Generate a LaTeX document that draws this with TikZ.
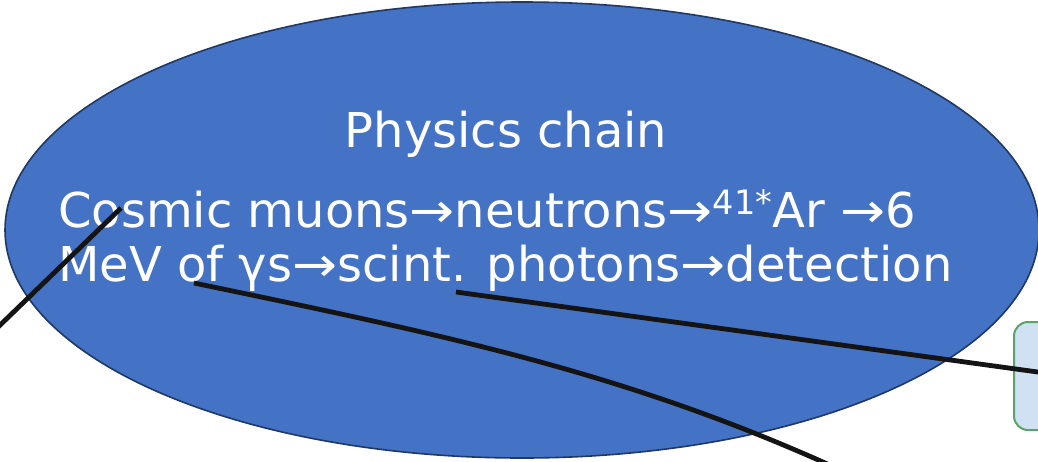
\documentclass[tikz,border=0pt]{standalone}
\usepackage{fontspec}
\setmainfont{DejaVu Sans}
\usepackage{xcolor}
\usepackage{tikz}
\usetikzlibrary{shapes.geometric}

\definecolor{chainblue}{HTML}{4472C4}
\definecolor{chainedge}{HTML}{203864}
\definecolor{boxfill}{HTML}{CFE1F3}
\definecolor{boxedge}{HTML}{5AA469}

\newcommand{\yields}{\scalebox{1.12}[1]{→}}

\begin{document}
\begin{tikzpicture}[
    x=0.75pt, y=-0.75pt,
    chainshape/.style={ellipse, draw=chainedge, fill=chainblue, line width=1.2pt, inner sep=0pt, minimum width=775.5pt, minimum height=342pt},
    chaintext/.style={text=white, font=\fontsize{36}{40.5}\selectfont, inner sep=0pt},
    sidebox/.style={rectangle, draw=boxedge, fill=boxfill, line width=1.5pt, rounded corners=10.5pt, minimum width=90pt, minimum height=81pt},
    link/.style={line width=3.6pt, draw=black!92}
]
\useasboundingbox (0,0) rectangle (1038,461);

\node (chain) [chainshape] at (522,230) {};
\node (title) [chaintext, anchor=base] at (506,147) {Physics chain};
\node (steps) [chaintext, align=left, anchor=base west] at (58,281) {Cosmic muons\yields neutrons\yields\textsuperscript{41*}Ar \yields 6\\MeV of γs\yields scint. photons\yields detection};

\node (detbox) [sidebox, anchor=north west] at (1013,321) {};

% connector ends
\coordinate (muonstart) at (121,208);
\coordinate (muonend) at (-6,331);
\coordinate (gammastart) at (194,283);
\coordinate (gammaend) at (834,467);
\coordinate (photonstart) at (456,292);
\coordinate (photonend) at (1045,373);

\draw [link] (muonstart) -- (muonend);
\draw [link] (gammastart) .. controls (444,335) and (624,372) .. (gammaend);
\draw [link] (photonstart) -- (photonend);

\end{tikzpicture}
\end{document}
